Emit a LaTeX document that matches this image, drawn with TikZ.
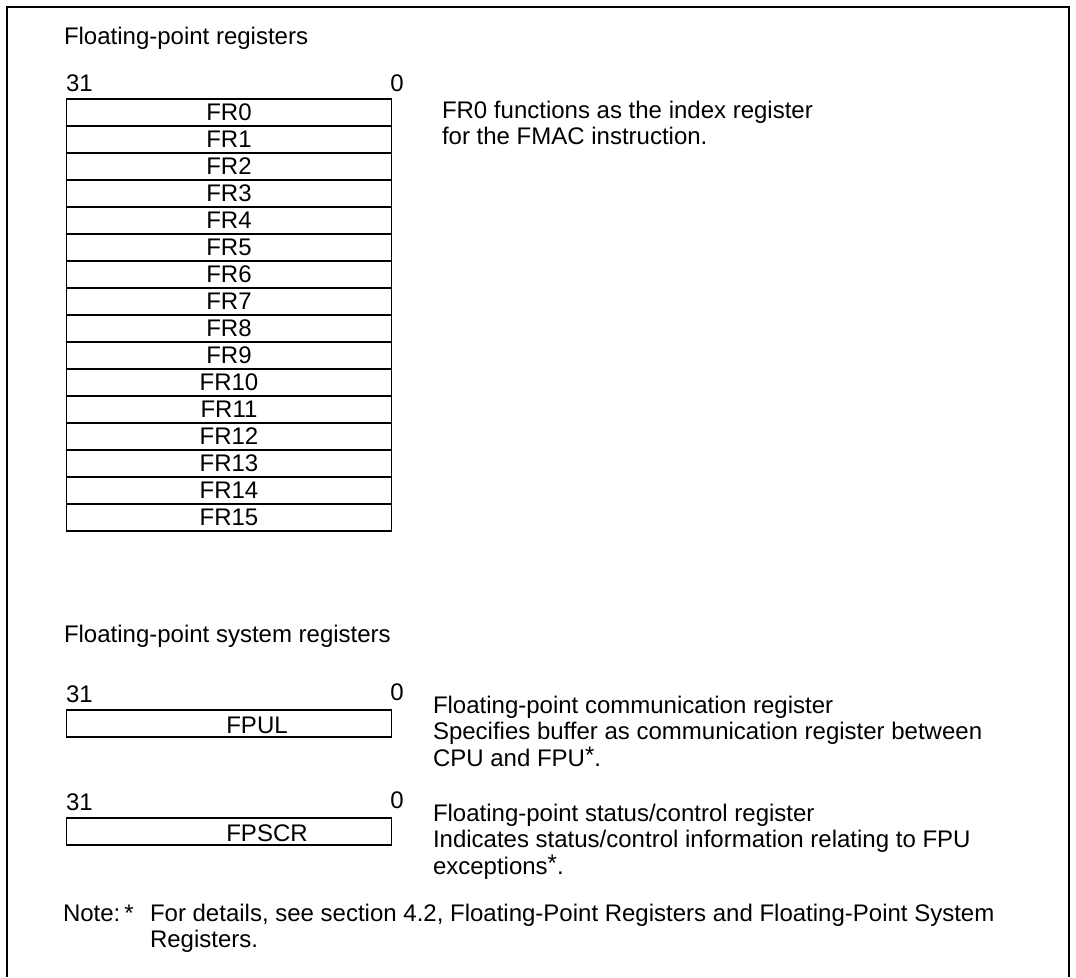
\documentclass[tikz,border=0pt]{standalone}
\usepackage{fontspec}
\setmainfont{Liberation Sans}
\newcommand{\supast}{\raisebox{0.12em}{*}}
\begin{document}
\begin{tikzpicture}[x=1pt,y=-1pt,
  every node/.style={font=\fontsize{24}{26}\selectfont, inner sep=0pt, outer sep=0pt},
  regbox/.style={draw, line width=1.4pt, minimum width=325pt, minimum height=27pt},
  txt/.style={anchor=base west},
  bitno/.style={anchor=base}]
\useasboundingbox (0,0) rectangle (1076,977);
% outer frame (open at the bottom)
\draw[line width=2pt] (7,977) -- (7,7) -- (1069,7) -- (1069,977);

% floating-point registers
\node[txt] (t1) at (64,44) {Floating-point registers};
\node[txt] (b31a) at (66,91) {31};
\node[bitno] (b0a) at (397,91) {0};
\foreach \i in {0,...,15}{
  \node[regbox] (fr\i) at (229,{99+27*\i+13.5}) {FR\i};
}
\node[txt] (d1) at (442,118) {FR0 functions as the index register};
\node[txt] (d2) at (442,144) {for the FMAC instruction.};

% floating-point system registers
\node[txt] (t2) at (64,642) {Floating-point system registers};

\node[txt] (b31b) at (66,702) {31};
\node[bitno] (b0b) at (397,700) {0};
\node[regbox] (fpul) at (229,723.5) {};
\node (fpult) at (257,725) {FPUL};
\node[txt] (e1) at (433,713) {Floating-point communication register};
\node[txt] (e2) at (433,739) {Specifies buffer as communication register between};
\node[txt] (e3) at (433,766) {CPU and FPU\supast.};

\node[txt] (b31c) at (66,810) {31};
\node[bitno] (b0c) at (397,808) {0};
\node[regbox] (fpscr) at (229,831.5) {};
\node (fpscrt) at (267,833) {FPSCR};
\node[txt] (f1) at (433,821) {Floating-point status/control register};
\node[txt] (f2) at (433,847) {Indicates status/control information relating to FPU};
\node[txt] (f3) at (433,874) {exceptions\supast.};

% note
\node[txt] (n1) at (63,921) {Note:};
\node[bitno] (n2) at (129,921) {*};
\node[txt] (n3) at (150,921) {For details, see section 4.2, Floating-Point Registers and Floating-Point System};
\node[txt] (n4) at (150,947) {Registers.};
\end{tikzpicture}
\end{document}
